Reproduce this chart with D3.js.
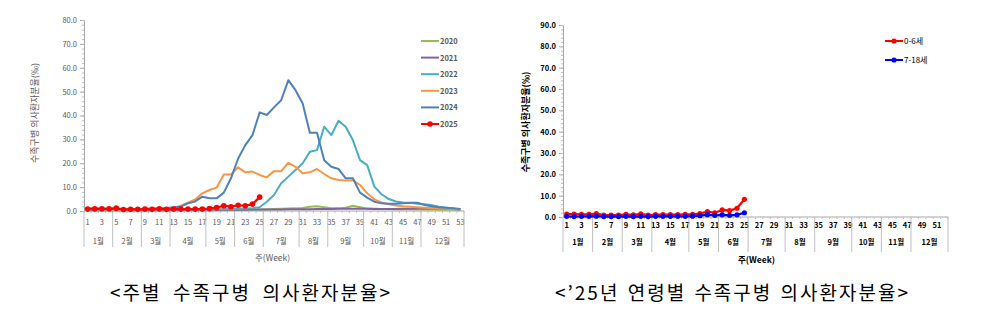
<!DOCTYPE html>
<html>
<head>
<meta charset="utf-8">
<script src="https://cdn.jsdelivr.net/npm/d3@7"></script>
<style>
  body { margin: 0; background: #fff; }
  text { font-family: "Noto Sans CJK KR", "Noto Sans", sans-serif; }
</style>
</head>
<body>
<script>
// DATA - left chart (weekly rate by year)
var weeksLeft = d3.range(1, 54);
var years = ["2020", "2021", "2022", "2023", "2024", "2025"];
var y2020 = [1.0,1.0,0.9,0.8,0.7,0.6,0.5,0.4,0.3,0.3,0.3,0.3,0.3,0.3,0.3,0.3,0.3,0.3,0.3,0.3,0.4,0.4,0.5,0.5,0.6,0.7,0.8,0.9,1.0,1.1,1.3,1.8,2.0,1.6,1.2,1.1,1.4,2.2,1.6,1.0,0.9,0.8,0.8,0.7,0.7,0.7,0.6,0.6,0.6,0.5,0.5,0.5,0.5];
var y2021 = [0.3,0.3,0.3,0.3,0.3,0.3,0.3,0.3,0.3,0.3,0.3,0.3,0.4,0.4,0.4,0.4,0.4,0.5,0.5,0.5,0.5,0.5,0.5,0.6,0.6,0.6,0.6,0.6,0.7,0.7,0.7,0.7,0.8,0.8,0.8,0.9,0.9,0.9,0.9,0.9,0.8,0.8,0.8,0.8,0.9,0.9,1.0,1.0,1.0,1.0,0.9,0.8,0.7];
var y2022 = [0.5,0.5,0.4,0.4,0.4,0.4,0.4,0.4,0.4,0.4,0.4,0.5,0.5,0.5,0.5,0.5,0.6,0.6,0.7,0.7,0.8,0.9,1.0,1.2,1.6,3.9,6.7,11.6,14.4,17.2,20.0,24.8,25.5,35.3,31.8,37.8,35.3,29.7,21.3,19.2,10.2,7.0,5.0,4.0,3.6,3.4,3.0,2.8,2.4,1.8,1.4,1.0,0.5];
var y2023 = [0.8,0.8,0.7,0.7,0.6,0.6,0.6,0.6,0.7,0.8,0.9,1.0,1.3,2.2,3.5,4.8,7.4,8.8,9.8,15.3,15.3,18.3,16.2,16.5,15.1,14.1,16.7,16.7,20.2,18.5,15.8,16.2,17.6,15.5,13.7,13.0,12.8,12.8,10.9,7.4,4.9,3.6,2.8,2.3,2.0,1.8,1.6,1.4,1.2,1.0,0.9,0.8,0.7];
var y2024 = [1.0,1.0,0.9,0.9,0.8,0.8,0.8,0.8,0.9,1.0,1.1,1.3,1.6,1.8,3.2,4.0,6.0,5.3,5.3,7.7,13.7,22.0,27.6,31.8,41.3,40.2,43.4,46.4,54.8,50.6,45.0,32.8,32.8,21.3,18.5,17.6,13.7,13.7,7.7,5.6,3.9,3.2,3.0,3.0,3.2,3.5,3.5,2.5,2.0,1.6,1.4,1.2,0.8];
var y2025 = [0.8,0.9,0.9,0.9,1.2,0.6,0.7,0.7,0.8,0.7,0.9,0.7,0.8,0.8,0.8,0.8,0.8,1.0,1.4,2.2,1.8,2.4,2.2,2.9,5.8];
var yearColors = ["#9BBB59", "#8064A2", "#4BACC6", "#F79646", "#4F81BD", "#FF0000"];

// DATA - right chart ('25 by age group)
var weeksRight = d3.range(1, 53);
var ages = ["0-6세", "7-18세"];
var age0to6 = [1.4,1.4,1.3,1.3,1.6,0.9,0.9,0.9,1.2,1.0,1.5,0.9,1.1,1.1,1.1,1.1,1.2,1.2,1.6,2.5,2.0,3.3,3.0,4.1,8.3];
var age7to18 = [0.3,0.2,0.3,0.3,0.4,0.2,0.2,0.2,0.3,0.2,0.3,0.2,0.3,0.3,0.3,0.3,0.3,0.4,0.6,1.1,0.8,1.0,0.8,1.0,2.0];
var ageColors = ["#FF0000", "#0000FF"];

// month groups (last week of each month)
var months = ["1월","2월","3월","4월","5월","6월","7월","8월","9월","10월","11월","12월"];
var monthEndsLeft = [4,8,12,17,21,25,30,34,39,43,47,53];
var monthEndsRight = [4,8,12,17,21,25,30,34,39,43,47,52];

var yLabel = "수족구병 의사환자분율(‰)";

var svg = d3.select("body")
  .append("svg")
  .attr("width", 1000)
  .attr("height", 313);

// FUNCTIONS
function drawFrame(c) {
  var g = svg.append("g");
  var bw = c.x.bandwidth();

  // y axis
  g.append("g")
   .attr("transform", "translate(" + c.left + ",0)")
   .call(d3.axisLeft(c.y).tickValues(d3.range(0, c.ymax + 1, 10)).tickSize(4).tickFormat(d3.format(".1f")))
   .call(function(a) {
     a.select(".domain").attr("stroke", "#A6A6A6");
     a.selectAll("line").attr("stroke", "#A6A6A6");
     a.selectAll("text")
      .attr("font-size", c.tickSize)
      .attr("font-weight", c.bold ? "bold" : "normal")
      .attr("fill", c.textColor);
   });

  // minor y ticks
  g.append("g")
   .attr("transform", "translate(" + c.left + ",0)")
   .call(d3.axisLeft(c.y).tickValues(d3.range(0, c.ymax + 0.1, 2)).tickSize(2).tickFormat(""))
   .call(function(a) {
     a.select(".domain").remove();
     a.selectAll("line").attr("stroke", "#BFBFBF");
   });

  // x axis line
  var y0 = c.y(0);
  g.append("line")
   .attr("x1", c.left).attr("x2", c.right)
   .attr("y1", y0).attr("y2", y0)
   .attr("stroke", "#A6A6A6");

  // small category ticks
  g.selectAll(".ct")
   .data(c.weeks)
   .enter()
   .append("line")
   .attr("x1", function(d) { return c.x(d) + bw; })
   .attr("x2", function(d) { return c.x(d) + bw; })
   .attr("y1", y0)
   .attr("y2", y0 + 2)
   .attr("stroke", "#BFBFBF");

  // week labels (odd weeks)
  g.selectAll(".wk")
   .data(c.weeks.filter(function(d) { return d % 2 == 1; }))
   .enter()
   .append("text")
   .attr("x", function(d) { return c.x(d) + bw / 2; })
   .attr("y", y0 + c.weekDy)
   .attr("text-anchor", "middle")
   .attr("font-size", c.tickSize)
   .attr("font-weight", c.bold ? "bold" : "normal")
   .attr("fill", c.textColor)
   .text(function(d) { return d; });

  // month separators and labels
  var starts = [0].concat(c.monthEnds.slice(0, -1));
  g.selectAll(".sep")
   .data([0].concat(c.monthEnds))
   .enter()
   .append("line")
   .attr("x1", function(d) { return c.left + d * bw; })
   .attr("x2", function(d) { return c.left + d * bw; })
   .attr("y1", y0)
   .attr("y2", y0 + c.sepLen)
   .attr("stroke", "#BFBFBF");

  g.selectAll(".mon")
   .data(months)
   .enter()
   .append("text")
   .attr("x", function(d, i) { return c.left + (starts[i] + c.monthEnds[i]) / 2 * bw; })
   .attr("y", y0 + c.monthDy)
   .attr("text-anchor", "middle")
   .attr("font-size", c.tickSize)
   .attr("font-weight", c.bold ? "bold" : "normal")
   .attr("fill", c.textColor)
   .text(function(d) { return d; });

  // 주(Week)
  g.append("text")
   .attr("x", c.weekTitleX)
   .attr("y", c.weekTitleY)
   .attr("font-size", 8.5)
   .attr("font-weight", c.bold ? "bold" : "normal")
   .attr("fill", c.textColor)
   .text("주(Week)");

  // y title
  g.append("text")
   .attr("transform", "translate(" + c.yTitleX + "," + c.yTitleY + ") rotate(-90)")
   .attr("text-anchor", "middle")
   .attr("font-size", 9)
   .attr("font-weight", c.bold ? "bold" : "normal")
   .attr("fill", c.textColor)
   .text(yLabel);
}

function drawSeries(c, values, color, markers, r) {
  var bw = c.x.bandwidth();
  var pts = values.map(function(v, i) { return {w: c.weeks[i], v: v}; });
  var line = d3.line()
    .x(function(d) { return c.x(d.w) + bw / 2; })
    .y(function(d) { return c.y(d.v); });
  svg.append("path")
     .datum(pts)
     .attr("d", line)
     .attr("fill", "none")
     .attr("stroke", color)
     .attr("stroke-width", markers ? 2.2 : 2)
     .attr("stroke-linejoin", "round");
  if (markers) {
    svg.append("g")
       .selectAll("circle")
       .data(pts)
       .enter()
       .append("circle")
       .attr("cx", function(d) { return c.x(d.w) + bw / 2; })
       .attr("cy", function(d) { return c.y(d.v); })
       .attr("r", r)
       .attr("fill", color);
  }
}

// LEFT CHART
var cl = {
  left: 84, right: 464, ymax: 80,
  weeks: weeksLeft, monthEnds: monthEndsLeft,
  tickSize: 7.5, bold: false, textColor: "#595959",
  weekDy: 14, monthDy: 33, sepLen: 36,
  weekTitleX: 255, weekTitleY: 261,
  yTitleX: 38, yTitleY: 113
};
cl.x = d3.scaleBand().domain(weeksLeft).range([cl.left, cl.right]);
cl.y = d3.scaleLinear().domain([0, 80]).range([211, 20]);
drawFrame(cl);

var leftSeries = [y2020, y2021, y2022, y2023, y2024, y2025];
leftSeries.forEach(function(s, i) {
  drawSeries(cl, s, yearColors[i], i == 5, 2.8);
});

// left legend
var lg = svg.append("g").selectAll("g")
  .data(years)
  .enter()
  .append("g")
  .attr("transform", function(d, i) { return "translate(421," + (41 + i * 16.6) + ")"; });
lg.append("line")
  .attr("x1", 0).attr("x2", 18)
  .attr("stroke", function(d, i) { return yearColors[i]; })
  .attr("stroke-width", 2);
lg.filter(function(d, i) { return i == 5; })
  .append("circle")
  .attr("cx", 9).attr("r", 2.8)
  .attr("fill", yearColors[5]);
lg.append("text")
  .attr("x", 19).attr("y", 3)
  .attr("font-size", 7.5)
  .attr("font-weight", "bold")
  .attr("fill", "#595959")
  .text(function(d) { return d; });

// RIGHT CHART
var cr = {
  left: 563, right: 948, ymax: 90,
  weeks: weeksRight, monthEnds: monthEndsRight,
  tickSize: 7.5, bold: true, textColor: "#000",
  weekDy: 11, monthDy: 28, sepLen: 35,
  weekTitleX: 738, weekTitleY: 263,
  yTitleX: 529, yTitleY: 122
};
cr.x = d3.scaleBand().domain(weeksRight).range([cr.left, cr.right]);
cr.y = d3.scaleLinear().domain([0, 90]).range([217, 25]);
drawFrame(cr);

[age0to6, age7to18].forEach(function(s, i) {
  drawSeries(cr, s, ageColors[i], true, 2.6);
});

// right legend
var rg = svg.append("g").selectAll("g")
  .data(ages)
  .enter()
  .append("g")
  .attr("transform", function(d, i) { return "translate(885," + (41 + i * 19) + ")"; });
rg.append("line")
  .attr("x1", 0).attr("x2", 18)
  .attr("stroke", function(d, i) { return ageColors[i]; })
  .attr("stroke-width", 2);
rg.append("circle")
  .attr("cx", 9).attr("r", 2.6)
  .attr("fill", function(d, i) { return ageColors[i]; });
rg.append("text")
  .attr("x", 19).attr("y", 3)
  .attr("font-size", 8)
  .attr("fill", "#000")
  .text(function(d) { return d; });

// TITLES - a little letter spacing, the rest goes into the word gaps
function title(str, x, w) {
  var t = svg.append("text")
     .attr("x", x).attr("y", 300)
     .attr("font-size", 19)
     .attr("letter-spacing", 2)
     .attr("fill", "#000")
     .text(str);
  var gaps = str.split(" ").length - 1;
  var extra = w - t.node().getComputedTextLength();
  if (gaps > 0 && extra > 0) t.attr("word-spacing", extra / gaps);
}
title("<주별 수족구병 의사환자분율>", 110, 282);
title("<’25년 연령별 수족구병 의사환자분율>", 555, 355);
</script>
</body>
</html>
